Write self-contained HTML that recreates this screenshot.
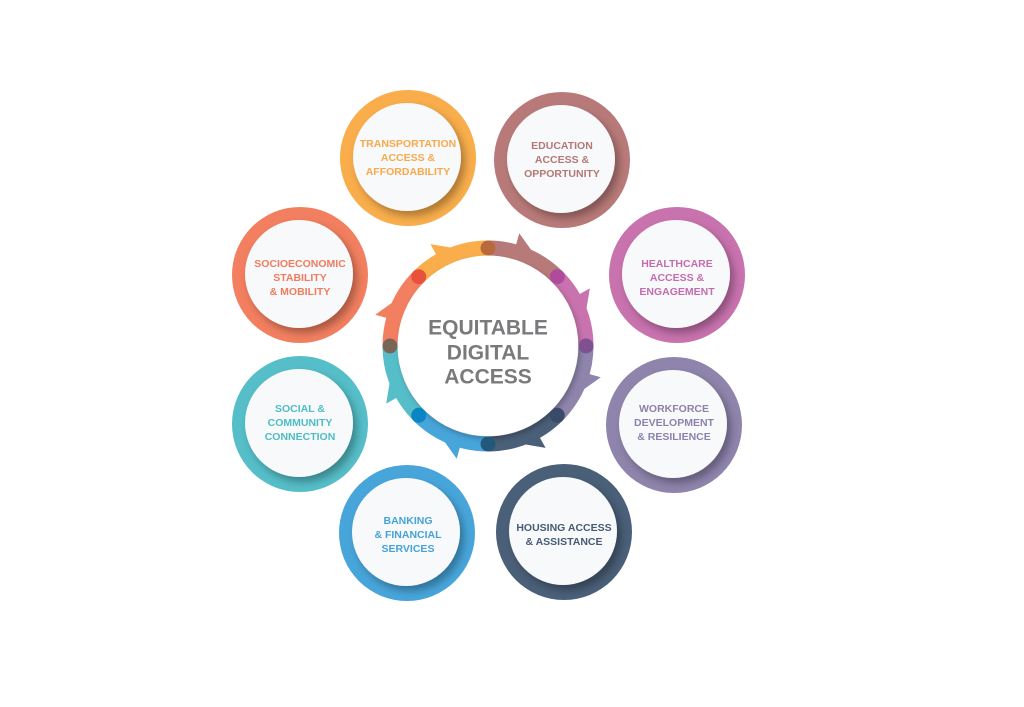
<!DOCTYPE html>
<html><head><meta charset="utf-8"><style>
html,body{margin:0;padding:0;background:#fff}
#c{position:relative;width:1024px;height:707px;overflow:hidden;font-family:"Liberation Sans",sans-serif}
.t{position:absolute;width:120px;text-align:center;font-weight:bold;font-size:10.5px;line-height:14px;transform:translate(-50%,-50%)}
.ct{position:absolute;left:488px;top:353px;transform:translate(-50%,-50%);text-align:center;font-weight:bold;font-size:21px;line-height:24.5px;color:#7a7a7c}
</style></head><body><div id="c">
<svg id="s" width="1024" height="707" style="position:absolute;left:0;top:0">
<defs>
<filter id="sh" x="-30%" y="-30%" width="160%" height="160%"><feDropShadow dx="4" dy="5" stdDeviation="4" flood-color="#000" flood-opacity="0.3"/></filter>
<filter id="sh2" x="-30%" y="-30%" width="160%" height="160%"><feDropShadow dx="2" dy="3" stdDeviation="3" flood-color="#000" flood-opacity="0.25"/></filter>
</defs>
<g id="g"></g>
</svg>
<div class="t" style="left:408px;top:158px;color:#F9A94B">TRANSPORTATION<br>ACCESS &amp;<br>AFFORDABILITY</div>
<div class="t" style="left:562px;top:160px;color:#B57874">EDUCATION<br>ACCESS &amp;<br>OPPORTUNITY</div>
<div class="t" style="left:677px;top:278px;color:#C46DAE">HEALTHCARE<br>ACCESS &amp;<br>ENGAGEMENT</div>
<div class="t" style="left:674px;top:423px;color:#8D82AB">WORKFORCE<br>DEVELOPMENT<br>&amp; RESILIENCE</div>
<div class="t" style="left:564px;top:535px;color:#465B74">HOUSING ACCESS<br>&amp; ASSISTANCE</div>
<div class="t" style="left:408px;top:535px;color:#45A3D8">BANKING<br>&amp; FINANCIAL<br>SERVICES</div>
<div class="t" style="left:300px;top:423px;color:#4DBDC6">SOCIAL &amp;<br>COMMUNITY<br>CONNECTION</div>
<div class="t" style="left:300px;top:278px;color:#F07B5E">SOCIOECONOMIC<br>STABILITY<br>&amp; MOBILITY</div>
<div class="ct">EQUITABLE<br>DIGITAL<br>ACCESS</div>
</div>
<script>
var g=document.getElementById('g'),h='';
var C=[["#B87A78",562,160],["#C872AE",677,275],["#8E84AC",674,425],["#4A5F78",564,532],["#47A5DA",407,533],["#55BEC8",300,424],["#F27F5F",300,275],["#F9AD4B",408,158]];
C.forEach(function(c){h+='<circle cx="'+c[1]+'" cy="'+c[2]+'" r="68" fill="'+c[0]+'"/>';
h+='<circle cx="'+(c[1]-1)+'" cy="'+(c[2]-1)+'" r="54" fill="#f8f9fb" filter="url(#sh)"/>';});
var cx=488,cy=346,R=98;
function P(r,a){a=a*Math.PI/180;return [cx+r*Math.sin(a),cy-r*Math.cos(a)];}
var dots=["#B86A3C","#B04A9C","#7E5290","#3A4B6A","#22587C","#0B86C4","#7A6456","#E9513C"];
for(var k=0;k<8;k++){var a0=k*45,a1=a0+45,p0=P(R,a0),p1=P(R,a1);
h+='<path d="M'+p0+' A'+R+' '+R+' 0 0 1 '+p1+'" stroke="'+C[k][0]+'" stroke-width="15" fill="none"/>';
var m=a0+22.5,b1=P(104,m-7),b2=P(104,m+3),tp=P(117,m-7);
h+='<polygon points="'+b1+' '+tp+' '+b2+'" fill="'+C[k][0]+'"/>';}
h+='<circle cx="'+cx+'" cy="'+cy+'" r="90" fill="#fff" filter="url(#sh2)"/>';
for(var k=0;k<8;k++){var p=P(R,k*45);h+='<circle cx="'+p[0]+'" cy="'+p[1]+'" r="7.5" fill="'+dots[k]+'"/>';}
g.innerHTML=h;
</script>
</body></html>
